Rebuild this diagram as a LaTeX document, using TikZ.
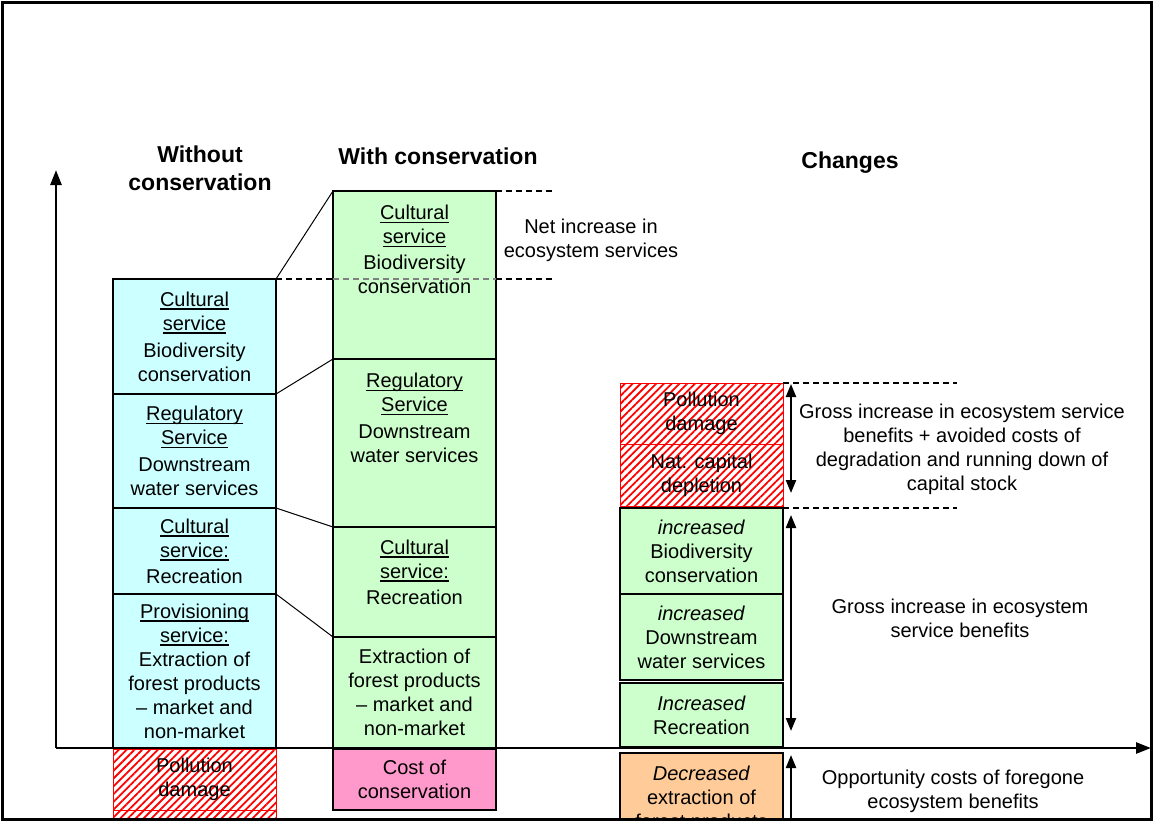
\documentclass[tikz,border=0pt]{standalone}
\usepackage{fontspec}
\setmainfont{Liberation Sans}
\usetikzlibrary{positioning,arrows.meta,patterns.meta}

\definecolor{nocons}{HTML}{CCFFFF}
\definecolor{withcons}{HTML}{CCFFCC}
\definecolor{costpink}{HTML}{FF99CC}
\definecolor{lossorange}{HTML}{FFCC99}

\newcommand{\uword}[1]{\setbox0\hbox{#1}\leavevmode\rlap{\vrule height -2.2pt depth 3.6pt width \wd0}\box0}

\begin{document}
\begin{tikzpicture}[
        x=1pt, y=-1pt,
        font=\fontsize{20}{24}\selectfont,
        cell/.style={rectangle, draw=black, line width=1.2pt, minimum width=163pt, anchor=north west, align=center, inner sep=0pt, outer sep=0pt},
        cyancell/.style={cell, fill=nocons},
        greencell/.style={cell, fill=withcons},
        hatchcell/.style={cell, draw=red, line width=0.8pt, pattern={Lines[angle=45,distance=5.5pt,line width=1.8pt]}, pattern color=red},
        toptext/.style={anchor=north, align=center, inner sep=0pt, yshift=-14pt},
        heading/.style={font=\fontsize{23}{28}\selectfont\bfseries, align=center},
        note/.style={align=center},
        axis/.style={line width=2.5pt, -{Triangle[width=11pt,length=15pt]}},
        span/.style={line width=2.2pt, {Triangle[width=10pt,length=13pt]}-{Triangle[width=10pt,length=13pt]}},
        guide/.style={line width=1.5pt, dash pattern=on 6pt off 4pt},
        link/.style={line width=1pt}
    ]
    \useasboundingbox (0,0) rectangle (1155,822);

    % Headings
    \node[heading] (hwithout) at (200,168) {Without\\conservation};
    \node[heading] (hwith) at (438,156) {With conservation};
    \node[heading] (hchanges) at (850,163) {Changes};

    % Without conservation
    \node[cyancell, minimum height=115pt] (wbio) at (113,279) {\uword{Cultural}\\\uword{service}\\[3pt]Biodiversity\\conservation};
    \node[cyancell, minimum height=114pt] (wreg) at (113,394) {\uword{Regulatory}\\\uword{Service}\\[3pt]Downstream\\water services};
    \node[cyancell, minimum height=86pt] (wrec) at (113,508) {\uword{Cultural}\\\uword{service:}\\[2pt]Recreation};
    \node[cyancell, minimum height=154pt] (wprov) at (113,594) {\uword{Provisioning}\\\uword{service:}\\Extraction of\\forest products\\-- market and\\non-market};

    % With conservation
    \node[greencell, minimum height=168pt] (cbio) at (333,191) {};
    \node[toptext] at (cbio.north) {\uword{Cultural}\\\uword{service}\\[2pt]Biodiversity\\conservation};
    \node[greencell, minimum height=168pt] (creg) at (333,359) {};
    \node[toptext] at (creg.north) {\uword{Regulatory}\\\uword{Service}\\[3pt]Downstream\\water services};
    \node[greencell, minimum height=110pt] (crec) at (333,527) {};
    \node[toptext, yshift=1.5pt] at (crec.north) {\uword{Cultural}\\\uword{service:}\\[2pt]Recreation};
    \node[greencell, minimum height=111pt] (cext) at (333,637) {Extraction of\\forest products\\-- market and\\non-market};

    % Changes
    \node[hatchcell, minimum height=61pt] (rpol) at (620,383) {Pollution\\damage};
    \node[hatchcell, minimum height=62pt] (rdep) at (620,444) {Nat. capital\\depletion};
    \node[greencell, minimum height=86pt] (rbio) at (620,508) {\textit{increased}\\Biodiversity\\conservation};
    \node[greencell, minimum height=86pt] (rwat) at (620,594) {\textit{increased}\\Downstream\\water services};
    \node[greencell, minimum height=64pt] (rrec) at (620,683) {\textit{Increased}\\Recreation};

    % Below the axis, cut off by the frame
    \begin{scope}
        \clip (2,2) rectangle (1152,820);
        \node[hatchcell, minimum height=61pt] (wpol) at (113,749) {Pollution\\damage};
        \node[hatchcell, minimum height=60pt] (wdep) at (113,810) {};
        \node[cell, fill=costpink, minimum height=61pt] (ccost) at (333,749) {Cost of\\conservation};
        \node[cell, fill=lossorange, minimum height=100pt] (rdec) at (620,753) {};
        \node[toptext, yshift=1.5pt] at (rdec.north) {\textit{Decreased}\\extraction of\\forest products};
        \coordinate (oppbot) at (791,832);
    \end{scope}

    % Axes
    \coordinate (origin) at (56,748);
    \coordinate (ytop) at (56,170);
    \coordinate (xend) at (1151,748);
    \draw[axis] (origin) -- (ytop);
    \draw[axis] (origin) -- (xend);

    % Links between columns
    \draw[link] (wbio.north east) -- (cbio.north west);
    \draw[link] (wbio.south east) -- (creg.north west);
    \draw[link] (wreg.south east) -- (crec.north west);
    \draw[link] (wrec.south east) -- (cext.north west);

    % Net increase
    \coordinate (netleft) at (333,279);
    \coordinate (netright) at (496,279);
    \coordinate (nettop) at (555,191);
    \coordinate (netbot) at (555,279);
    \draw[guide] (wbio.north east) -- (netleft);
    \draw[guide, gray] (netleft) -- (netright);
    \draw[guide] (netright) -- (netbot);
    \draw[guide] (cbio.north east) -- (nettop);
    \node[note] (netnote) at (591,240) {Net increase in\\ecosystem services};

    % Gross increase
    \coordinate (grosstop) at (957,383);
    \coordinate (grossmid) at (957,508);
    \draw[guide] (rpol.north east) -- (grosstop);
    \draw[guide] (rbio.north east) -- (grossmid);
    \coordinate (avtop) at (791,384);
    \coordinate (avbot) at (791,493);
    \coordinate (svtop) at (791,515);
    \coordinate (svbot) at (791,731);
    \coordinate (opptop) at (791,755);
    \draw[span] (avtop) -- (avbot);
    \draw[span] (svtop) -- (svbot);
    \begin{scope}
        \clip (2,2) rectangle (1152,820);
        \draw[span] (opptop) -- (oppbot);
    \end{scope}
    \node[note] (avnote) at (962,449.5) {Gross increase in ecosystem service\\benefits + avoided costs of\\degradation and running down of\\capital stock};
    \node[note] (svnote) at (960,618) {Gross increase in ecosystem\\service benefits};
    \node[note] (oppnote) at (953,791) {Opportunity costs of foregone\\ecosystem benefits};

    % Frame
    \draw[line width=2.5pt] (2.5,2.5) rectangle (1151.5,819.5);

\end{tikzpicture}
\end{document}
